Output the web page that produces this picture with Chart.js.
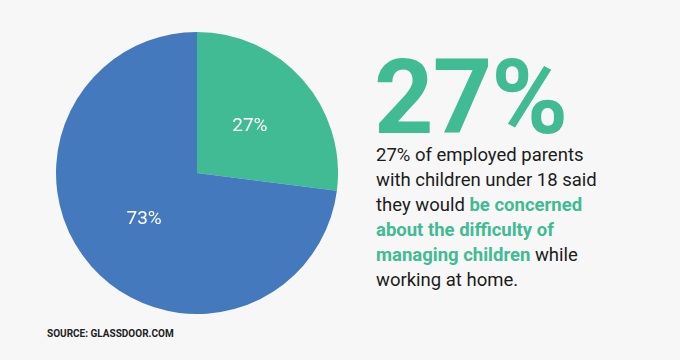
<!DOCTYPE html>
<html>
<head>
<meta charset="utf-8">
<script src="https://cdn.jsdelivr.net/npm/chart.js@4"></script>
<style>
  html, body { margin: 0; padding: 0; }
  body {
    width: 680px; height: 360px; background: #f7f7f7;
    position: relative; overflow: hidden;
    font-family: Roboto, "Noto Sans", sans-serif;
  }
  #pieWrap { position: absolute; left: 56px; top: 32px; width: 282px; height: 282px; }
  #big {
    position: absolute; left: 374px; top: 38px;
    font-size: 104px; font-weight: 700; color: #41bb93;
    line-height: 120px; letter-spacing: -1px;
  }
  #desc {
    position: absolute; left: 376px; top: 143px;
    font-size: 18.5px; line-height: 25px; color: #1c1c1c;
  }
  #desc b { color: #41bb93; font-weight: 700; }
  #source {
    position: absolute; left: 47px; top: 328px;
    font-size: 10px; font-weight: 700; color: #222;
  }
</style>
</head>
<body>
<div id="pieWrap"><canvas id="pieChart"></canvas></div>
<div id="big">27%</div>
<div id="desc">27% of employed parents<br>with children under 18 said<br>they would <b>be concerned</b><br><b>about the difficulty of</b><br><b>managing children</b> while<br>working at home.</div>
<div id="source">SOURCE: GLASSDOOR.COM</div>
<script>
// chart data
const labels = ['Concerned', 'Not concerned'];
const values = [27, 73];
const sliceColors = ['#41bb93', '#4479be'];

// draws the percent labels inside each slice
const sliceLabels = {
  id: 'sliceLabels',
  afterDatasetsDraw(chart) {
    const ctx = chart.ctx;
    const meta = chart.getDatasetMeta(0);
    ctx.save();
    ctx.fillStyle = '#ffffff';
    ctx.font = '19px Roboto';
    ctx.textAlign = 'center';
    ctx.textBaseline = 'middle';
    meta.data.forEach((arc, i) => {
      const mid = (arc.startAngle + arc.endAngle) / 2;
      const r = arc.outerRadius * 0.5;
      ctx.fillText(values[i] + '%', arc.x + Math.cos(mid) * r, arc.y + Math.sin(mid) * r);
    });
    ctx.restore();
  }
};

new Chart(document.getElementById('pieChart'), {
  type: 'pie',
  data: {
    labels: labels,
    datasets: [{
      data: values,
      backgroundColor: sliceColors,
      borderWidth: 0
    }]
  },
  options: {
    responsive: true,
    maintainAspectRatio: false,
    animation: false,
    layout: { padding: 0 },
    plugins: {
      legend: { display: false },
      tooltip: { enabled: false }
    }
  },
  plugins: [sliceLabels]
});
</script>
</body>
</html>
